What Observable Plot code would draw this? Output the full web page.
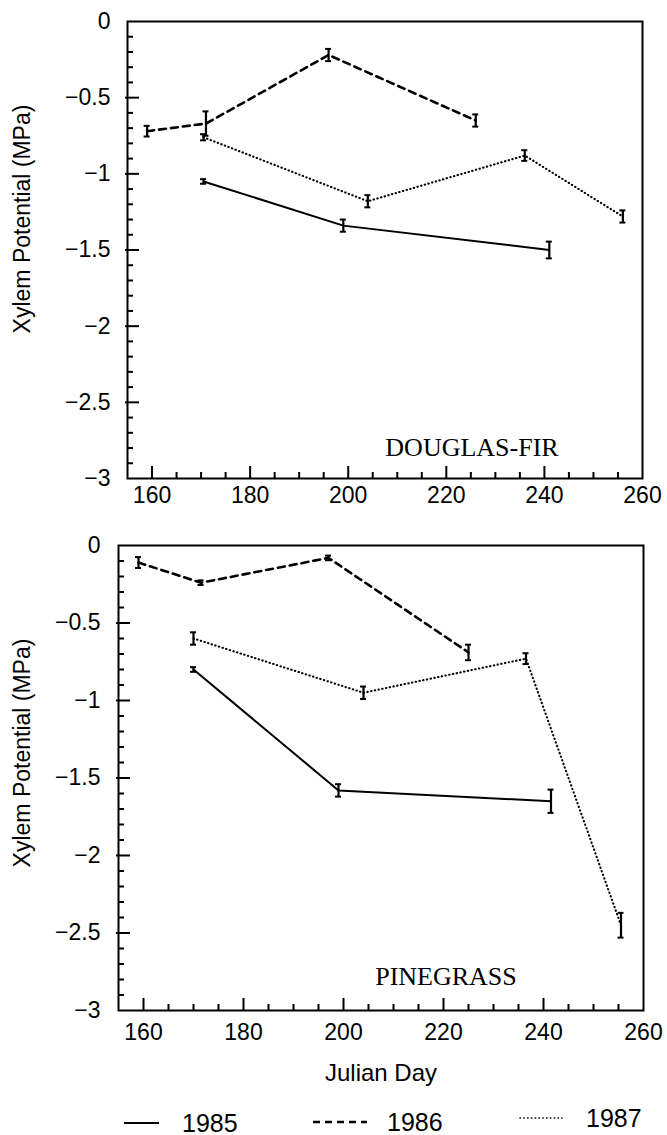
<!DOCTYPE html>
<html><head><meta charset="utf-8">
<script src="https://cdn.jsdelivr.net/npm/d3@7"></script>
<script src="https://cdn.jsdelivr.net/npm/@observablehq/plot@0.6"></script>
<style>
body{margin:0;background:#fff;}
#wrap{position:relative;width:667px;height:1135px;font-family:"Liberation Sans",Arial,sans-serif;background:#fff;overflow:hidden;}
#top{position:absolute;left:0;top:0;}
#bot{position:absolute;left:0;top:520px;}
.leg{position:absolute;height:30px;display:flex;align-items:center;font-size:25px;color:#000;}
.leg svg{display:block;}
</style></head><body>
<div id="wrap"><div id="top"></div><div id="bot"></div><div id="legend"></div></div>
<script>
// ---- data ----
const years = ["1985", "1986", "1987"];
const panelNames = ["DOUGLAS-FIR", "PINEGRASS"];
const yTitle = "Xylem Potential (MPa)";
const xTitle = "Julian Day";

// Douglas-fir
const dfDay1985 = [170.5, 199, 241];
const dfPsi1985 = [-1.05, -1.34, -1.50];
const dfErr1985 = [0.015, 0.04, 0.055];
const dfDay1986 = [159, 171, 196, 226];
const dfPsi1986 = [-0.72, -0.67, -0.22, -0.65];
const dfErr1986 = [0.035, 0.08, 0.04, 0.04];
const dfDay1987 = [170.5, 204, 236, 256];
const dfPsi1987 = [-0.76, -1.18, -0.88, -1.28];
const dfErr1987 = [0.02, 0.04, 0.035, 0.04];

// Pinegrass
const pgDay1985 = [170, 199, 241.5];
const pgPsi1985 = [-0.80, -1.58, -1.65];
const pgErr1985 = [0.015, 0.04, 0.075];
const pgDay1986 = [159, 171.5, 197, 225];
const pgPsi1986 = [-0.11, -0.24, -0.08, -0.69];
const pgErr1986 = [0.035, 0.015, 0.015, 0.05];
const pgDay1987 = [170, 204, 236.5, 255.5];
const pgPsi1987 = [-0.60, -0.95, -0.73, -2.45];
const pgErr1987 = [0.04, 0.04, 0.035, 0.08];

// ticks
const xMajor = [160, 180, 200, 220, 240, 260];
const xLabels = ["160", "180", "200", "220", "240", "260"];
const xMinor = [165, 170, 175, 185, 190, 195, 205, 210, 215, 225, 230, 235, 245, 250, 255];
const yMajor = [0, -0.5, -1, -1.5, -2, -2.5, -3];
const yLabels = ["0", "\u22120.5", "\u22121", "\u22121.5", "\u22122", "\u22122.5", "\u22123"];
const yMinor = [-0.1, -0.2, -0.3, -0.4, -0.6, -0.7, -0.8, -0.9, -1.1, -1.2, -1.3, -1.4,
  -1.6, -1.7, -1.8, -1.9, -2.1, -2.2, -2.3, -2.4, -2.6, -2.7, -2.8, -2.9];

// ---- styles ----
const lineStyle = {
  "1985": {strokeWidth: 2},
  "1986": {strokeWidth: 2.6, strokeDasharray: "7,5"},
  "1987": {strokeWidth: 2.1, strokeDasharray: "0.4,3.4", strokeLinecap: "round"}
};

function rows(days, psi, err, year) {
  return days.map((d, i) => ({day: d, psi: psi[i], err: err[i], year}));
}
const xLabelMap = new Map(xMajor.map((v, i) => [v, xLabels[i]]));
const yLabelMap = new Map(yMajor.map((v, i) => [v, yLabels[i]]));

function panel(series, o) {
  const plotW = 667 - o.ml - o.mr;
  const plotH = o.h - o.mt - o.mb;
  const marks = [
    Plot.ruleX(xMinor, {x: d => d, insetTop: plotH - 6, strokeWidth: 2}),
    Plot.ruleX(xMajor.slice(0, -1), {x: d => d, insetTop: plotH - 12, strokeWidth: 2}),
    Plot.ruleY(yMinor, {y: d => d, insetRight: plotW - 6, strokeWidth: 2}),
    Plot.ruleY(yMajor.slice(1, -1), {y: d => d, insetRight: plotW - 12, insetLeft: -2, strokeWidth: 2}),
    Plot.axisX({ticks: xMajor, tickSize: 0, tickPadding: o.xpad, tickFormat: d => xLabelMap.get(d), label: null, fontSize: 23}),
    Plot.axisY({ticks: yMajor, tickSize: 0, tickPadding: o.ypad, tickFormat: d => yLabelMap.get(d), label: null, fontSize: 23})
  ];
  for (const s of series) {
    const st = lineStyle[s[0].year];
    marks.push(Plot.line(s, {x: "day", y: "psi", stroke: "#000", ...st}));
    marks.push(Plot.ruleX(s, {x: "day", y1: d => d.psi - d.err, y2: d => d.psi + d.err, strokeWidth: 2.2}));
    marks.push(Plot.ruleY(s, {y: d => d.psi + d.err, x1: "day", x2: "day", insetLeft: -3, insetRight: -3, strokeWidth: 2}));
    marks.push(Plot.ruleY(s, {y: d => d.psi - d.err, x1: "day", x2: "day", insetLeft: -3, insetRight: -3, strokeWidth: 2}));
  }
  marks.push(Plot.frame({stroke: "#000", strokeWidth: 2}));
  marks.push(Plot.text([o.name], {frameAnchor: "bottom", dx: o.nameDx, dy: o.nameDy, fontFamily: "Liberation Serif, Times New Roman, serif", fontSize: 26, lineAnchor: "middle"}));
  marks.push(Plot.text([yTitle], {frameAnchor: "left", rotate: -90, dx: o.ytDx, dy: o.ytDy, fontSize: 23, lineAnchor: "middle", textAnchor: "middle"}));
  if (o.xTitle) marks.push(Plot.text([o.xTitle], {frameAnchor: "bottom", dy: 63, fontSize: 24, lineAnchor: "middle"}));
  return Plot.plot({
    width: 667, height: o.h,
    marginLeft: o.ml, marginRight: o.mr, marginTop: o.mt, marginBottom: o.mb,
    x: {domain: [155, 260]},
    y: {domain: [-3, 0]},
    style: {fontFamily: "Liberation Sans, Arial, sans-serif", fontSize: "23px", color: "#000", background: "#fff", overflow: "visible"},
    marks
  });
}

const dfSeries = [
  rows(dfDay1985, dfPsi1985, dfErr1985, years[0]),
  rows(dfDay1986, dfPsi1986, dfErr1986, years[1]),
  rows(dfDay1987, dfPsi1987, dfErr1987, years[2])
];
const pgSeries = [
  rows(pgDay1985, pgPsi1985, pgErr1985, years[0]),
  rows(pgDay1986, pgPsi1986, pgErr1986, years[1]),
  rows(pgDay1987, pgPsi1987, pgErr1987, years[2])
];

document.getElementById("top").appendChild(panel(dfSeries, {
  h: 520, ml: 127, mr: 25, mt: 21, mb: 42, xpad: 8, ypad: 17,
  name: panelNames[0], nameDx: 87, nameDy: -31, ytDx: -105, ytDy: -31
}));
document.getElementById("bot").appendChild(panel(pgSeries, {
  h: 570, ml: 118, mr: 24, mt: 25, mb: 80, xpad: 13, ypad: 18,
  name: panelNames[1], nameDx: 65, nameDy: -34, ytDx: -96, ytDy: -25, xTitle
}));

// ---- legend (HTML below the plots) ----
const legendPos = [
  {left: 123, top: 1108, w: 37, gap: 22, y: 15},
  {left: 312, top: 1107, w: 56, gap: 19, y: 15},
  {left: 519, top: 1103, w: 44, gap: 23, y: 15}
];
const legend = document.getElementById("legend");
years.forEach((yr, i) => {
  const p = legendPos[i], st = lineStyle[yr];
  const div = document.createElement("div");
  div.className = "leg";
  div.style.left = p.left + "px";
  div.style.top = p.top + "px";
  div.style.gap = p.gap + "px";
  const sw = yr === "1987" ? 1.6 : st.strokeWidth;
  div.innerHTML = `<svg width="${p.w}" height="30"><line x1="1" x2="${p.w - 1}" y1="${p.y}" y2="${p.y}" stroke="#000" stroke-width="${sw}" ${st.strokeDasharray ? `stroke-dasharray="${st.strokeDasharray}"` : ""} ${st.strokeLinecap ? `stroke-linecap="${st.strokeLinecap}"` : ""}/></svg><span>${yr}</span>`;
  legend.appendChild(div);
});
</script>
</body></html>
